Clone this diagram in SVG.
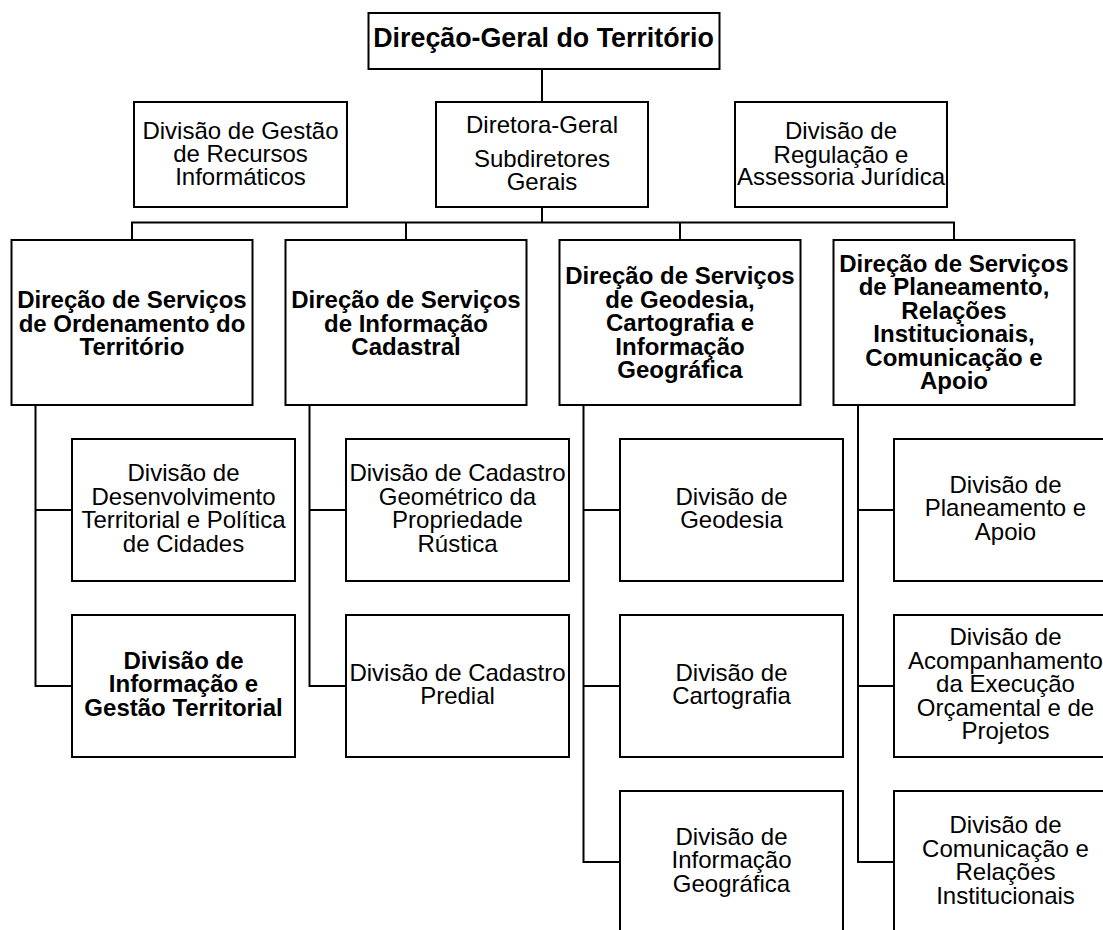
<svg xmlns="http://www.w3.org/2000/svg" width="1103" height="930" viewBox="0 0 1103 930">
<style>
.box{fill:#fff;stroke:#000;stroke-width:2}
.conn{fill:none;stroke:#000;stroke-width:2}
.t{font-family:"Liberation Sans",Arial,sans-serif;font-size:24px;text-anchor:middle;fill:#000}
.b{font-weight:bold}
.title{font-size:26.8px}
</style>
<rect width="1103" height="930" fill="#fff"/>
<g id="connectors">
<path class="conn" d="M542,69 V102"/>
<path class="conn" d="M542,207 V222.5"/>
<path class="conn" d="M132,240 V222.5 H954 V240 M406,222.5 V240 M680,222.5 V240"/>
<path class="conn" d="M35.5,405 V686 H72 M35.5,510 H72"/>
<path class="conn" d="M309.5,405 V686 H346 M309.5,510 H346"/>
<path class="conn" d="M583.5,405 V862 H620 M583.5,510 H620 M583.5,686 H620"/>
<path class="conn" d="M858,405 V862 H894 M858,510 H894 M858,686 H894"/>
</g>
<g id="n-dgt">
<rect class="box" x="368.5" y="13" width="351" height="56"/>
<text class="t b title" x="543.5" y="47">Direção-Geral do Território</text>
</g>
<g id="n-dgri">
<rect class="box" x="134" y="102" width="213" height="105"/>
<text class="t"><tspan x="240.5" y="139">Divisão de Gestão</tspan><tspan x="240.5" y="162">de Recursos</tspan><tspan x="240.5" y="185">Informáticos</tspan></text>
</g>
<g id="n-diretora">
<rect class="box" x="436" y="102" width="212" height="105"/>
<text class="t"><tspan x="542" y="133">Diretora-Geral</tspan><tspan x="542" y="167">Subdiretores</tspan><tspan x="542" y="190">Gerais</tspan></text>
</g>
<g id="n-draj">
<rect class="box" x="735" y="102" width="212" height="105"/>
<text class="t"><tspan x="841" y="139">Divisão de</tspan><tspan x="841" y="162.5">Regulação e</tspan><tspan x="841" y="185">Assessoria Jurídica</tspan></text>
</g>
<g id="n-dsot">
<rect class="box" x="11.5" y="240" width="241" height="165"/>
<text class="t b"><tspan x="132" y="308">Direção de Serviços</tspan><tspan x="132" y="331.5">de Ordenamento do</tspan><tspan x="132" y="355">Território</tspan></text>
</g>
<g id="n-dsic">
<rect class="box" x="285.5" y="240" width="241" height="165"/>
<text class="t b"><tspan x="406" y="308">Direção de Serviços</tspan><tspan x="406" y="331.5">de Informação</tspan><tspan x="406" y="355">Cadastral</tspan></text>
</g>
<g id="n-dsgcig">
<rect class="box" x="559.5" y="240" width="241" height="165"/>
<text class="t b"><tspan x="680" y="284">Direção de Serviços</tspan><tspan x="680" y="307.5">de Geodesia,</tspan><tspan x="680" y="331">Cartografia e</tspan><tspan x="680" y="354.5">Informação</tspan><tspan x="680" y="378">Geográfica</tspan></text>
</g>
<g id="n-dsprica">
<rect class="box" x="833.5" y="240" width="241" height="165"/>
<text class="t b"><tspan x="954" y="271.5">Direção de Serviços</tspan><tspan x="954" y="295">de Planeamento,</tspan><tspan x="954" y="318.5">Relações</tspan><tspan x="954" y="342">Institucionais,</tspan><tspan x="954" y="365.5">Comunicação e</tspan><tspan x="954" y="389">Apoio</tspan></text>
</g>
<g id="n-ddtpc">
<rect class="box" x="72" y="439" width="223" height="142"/>
<text class="t"><tspan x="183.5" y="481">Divisão de</tspan><tspan x="183.5" y="504.5">Desenvolvimento</tspan><tspan x="183.5" y="528">Territorial e Política</tspan><tspan x="183.5" y="551.5">de Cidades</tspan></text>
</g>
<g id="n-digt">
<rect class="box" x="72" y="615" width="223" height="142"/>
<text class="t b"><tspan x="183.5" y="668.5">Divisão de</tspan><tspan x="183.5" y="692">Informação e</tspan><tspan x="183.5" y="715.5">Gestão Territorial</tspan></text>
</g>
<g id="n-dcgpr">
<rect class="box" x="346" y="439" width="223" height="142"/>
<text class="t"><tspan x="457.5" y="481">Divisão de Cadastro</tspan><tspan x="457.5" y="504.5">Geométrico da</tspan><tspan x="457.5" y="528">Propriedade</tspan><tspan x="457.5" y="551.5">Rústica</tspan></text>
</g>
<g id="n-dcp">
<rect class="box" x="346" y="615" width="223" height="142"/>
<text class="t"><tspan x="457.5" y="680.5">Divisão de Cadastro</tspan><tspan x="457.5" y="704">Predial</tspan></text>
</g>
<g id="n-dg">
<rect class="box" x="620" y="439" width="223" height="142"/>
<text class="t"><tspan x="731.5" y="504.5">Divisão de</tspan><tspan x="731.5" y="528">Geodesia</tspan></text>
</g>
<g id="n-dc">
<rect class="box" x="620" y="615" width="223" height="142"/>
<text class="t"><tspan x="731.5" y="680.5">Divisão de</tspan><tspan x="731.5" y="704">Cartografia</tspan></text>
</g>
<g id="n-dig">
<rect class="box" x="620" y="791" width="223" height="142"/>
<text class="t"><tspan x="731.5" y="844.5">Divisão de</tspan><tspan x="731.5" y="868">Informação</tspan><tspan x="731.5" y="891.5">Geográfica</tspan></text>
</g>
<g id="n-dpa">
<rect class="box" x="894" y="439" width="223" height="142"/>
<text class="t"><tspan x="1005.5" y="492.5">Divisão de</tspan><tspan x="1005.5" y="516">Planeamento e</tspan><tspan x="1005.5" y="539.5">Apoio</tspan></text>
</g>
<g id="n-daeop">
<rect class="box" x="894" y="615" width="223" height="142"/>
<text class="t"><tspan x="1005.5" y="645">Divisão de</tspan><tspan x="1005.5" y="668.5">Acompanhamento</tspan><tspan x="1005.5" y="692">da Execução</tspan><tspan x="1005.5" y="715.5">Orçamental e de</tspan><tspan x="1005.5" y="739">Projetos</tspan></text>
</g>
<g id="n-dcri">
<rect class="box" x="894" y="791" width="223" height="142"/>
<text class="t"><tspan x="1005.5" y="833">Divisão de</tspan><tspan x="1005.5" y="856.5">Comunicação e</tspan><tspan x="1005.5" y="880">Relações</tspan><tspan x="1005.5" y="903.5">Institucionais</tspan></text>
</g>
</svg>
